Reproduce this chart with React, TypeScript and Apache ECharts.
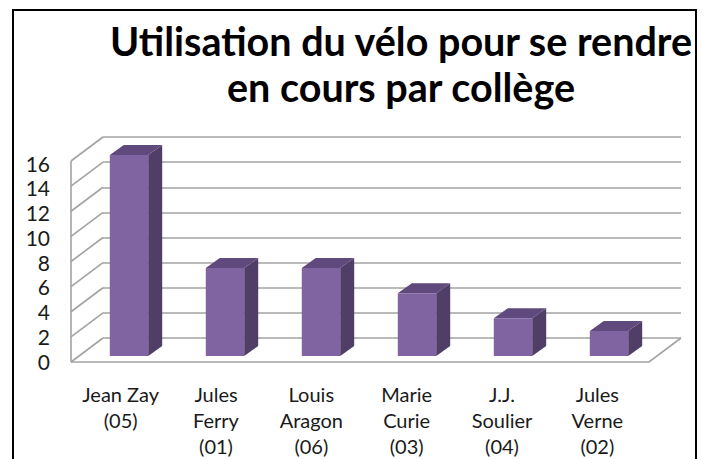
import React, { useEffect, useRef } from "react";
import * as echarts from "echarts";

const titleLines = ["Utilisation du vélo pour se rendre", "en cours par collège"];
const categories = [
  "Jean Zay\n(05)",
  "Jules\nFerry\n(01)",
  "Louis\nAragon\n(06)",
  "Marie\nCurie\n(03)",
  "J.J.\nSoulier\n(04)",
  "Jules\nVerne\n(02)",
];
const values = [16, 7, 7, 5, 3, 2];
const yMin = 0;
const yMax = 16;
const yInterval = 2;
const yTicks = [0, 2, 4, 6, 8, 10, 12, 14, 16];

// geometry / style constants
const WALL_DX = -32;
const WALL_DY = 24;
const BAR_DX = 14;
const BAR_DY = -10;
const GRID_COLOR = "#a3a3a3";
const FONT = "Lato, 'Noto Sans', sans-serif";

export default function App() {
  const ref = useRef<HTMLDivElement>(null);
  useEffect(() => {
    document.body.style.margin = "0";
    const chart = echarts.init(ref.current!, undefined, { renderer: "svg" });
    const option: any = {
      animation: false,
      backgroundColor: "#ffffff",
      title: {
        text: titleLines.join("\n"),
        left: 401,
        top: 17,
        textAlign: "center",
        padding: 0,
        textStyle: {
          fontFamily: FONT,
          fontWeight: "bold",
          fontSize: 39.5,
          lineHeight: 46,
          color: "#000000",
        },
      },
      graphic: [
        {
          type: "rect",
          shape: { x: 13, y: 10, width: 683, height: 480 },
          style: { fill: "none", stroke: "#000000", lineWidth: 2 },
          z: 100,
        },
      ],
      grid: [
        { left: 73, top: 163, width: 572, height: 199 },
        { left: 103, top: 137, width: 578, height: 201 },
        { left: 81, top: 155, width: 576, height: 201 },
      ],
      xAxis: [
        {
          type: "category",
          gridIndex: 0,
          data: categories,
          axisLine: { show: false },
          axisTick: { show: false },
          splitLine: { show: false },
          axisLabel: {
            interval: 0,
            margin: 20,
            fontFamily: FONT,
            fontSize: 20,
            lineHeight: 26,
            color: "#1a1a1a",
            verticalAlign: "top",
          },
        },
        { type: "value", gridIndex: 1, min: 0, max: 1, show: false },
        {
          type: "category",
          gridIndex: 2,
          data: categories,
          show: false,
        },
      ],
      yAxis: [
        {
          type: "value",
          gridIndex: 0,
          min: yMin,
          max: yMax,
          interval: yInterval,
          axisLine: { show: false },
          axisTick: { show: false },
          splitLine: { show: false },
          axisLabel: {
            margin: 23,
            fontFamily: FONT,
            fontSize: 21,
            color: "#1a1a1a",
          },
        },
        {
          type: "value",
          gridIndex: 1,
          min: yMin,
          max: yMax,
          interval: yInterval,
          axisLine: { show: false },
          axisTick: { show: false },
          axisLabel: { show: false },
          splitLine: { show: true, lineStyle: { color: GRID_COLOR, width: 1.6 } },
        },
        {
          type: "value",
          gridIndex: 2,
          min: yMin,
          max: yMax,
          interval: yInterval,
          show: false,
        },
      ],
      series: [
        {
          type: "custom",
          name: "wall",
          xAxisIndex: 1,
          yAxisIndex: 1,
          silent: true,
          z: 1,
          data: yTicks.map((v) => [0, v]),
          renderItem: (params: any, api: any) => {
            const back = api.coord([0, api.value(1)]);
            return {
              type: "line",
              shape: {
                x1: back[0] + WALL_DX,
                y1: back[1] + WALL_DY,
                x2: back[0],
                y2: back[1],
              },
              style: { stroke: GRID_COLOR, lineWidth: 1.6 },
            };
          },
        },
        {
          type: "custom",
          name: "floor",
          xAxisIndex: 1,
          yAxisIndex: 1,
          silent: true,
          z: 1,
          data: [[0, yMin, 1, yMax]],
          renderItem: (params: any, api: any) => {
            const bl = api.coord([api.value(0), api.value(1)]);
            const br = api.coord([api.value(2), api.value(1)]);
            const tl = api.coord([api.value(0), api.value(3)]);
            const fl = [bl[0] + WALL_DX, bl[1] + WALL_DY];
            const fr = [br[0] + WALL_DX, br[1] + WALL_DY];
            const ft = [tl[0] + WALL_DX, tl[1] + WALL_DY];
            const st = { stroke: GRID_COLOR, lineWidth: 1.6, fill: "none" };
            return {
              type: "group",
              children: [
                { type: "polyline", shape: { points: [fl, fr, br] }, style: st },
                {
                  type: "line",
                  shape: { x1: fl[0], y1: fl[1], x2: ft[0], y2: ft[1] },
                  style: st,
                },
              ],
            };
          },
        },
        {
          type: "custom",
          name: "Utilisation du vélo",
          xAxisIndex: 2,
          yAxisIndex: 2,
          z: 5,
          data: values.map((v, i) => [i, v]),
          renderItem: (params: any, api: any) => {
            const x = api.value(0);
            const v = api.value(1);
            const base = api.coord([x, yMin]);
            const top = api.coord([x, v]);
            const bw = api.size([1, 0])[0] * 0.4;
            const l = base[0] - bw / 2;
            const r = base[0] + bw / 2;
            const ty = top[1];
            const by = base[1];
            return {
              type: "group",
              children: [
                {
                  type: "polygon",
                  shape: {
                    points: [
                      [r, ty],
                      [r + BAR_DX, ty + BAR_DY],
                      [r + BAR_DX, by + BAR_DY],
                      [r, by],
                    ],
                  },
                  style: { fill: "#503e67" },
                },
                {
                  type: "polygon",
                  shape: {
                    points: [
                      [l, ty],
                      [r, ty],
                      [r + BAR_DX, ty + BAR_DY],
                      [l + BAR_DX, ty + BAR_DY],
                    ],
                  },
                  style: { fill: "#604a7d" },
                },
                {
                  type: "rect",
                  shape: { x: l, y: ty, width: bw, height: by - ty },
                  style: { fill: "#8064a2" },
                },
              ],
            };
          },
        },
      ],
    };
    chart.setOption(option);
    return () => chart.dispose();
  }, []);
  return <div ref={ref} style={{ width: 706, height: 459 }} />;
}
